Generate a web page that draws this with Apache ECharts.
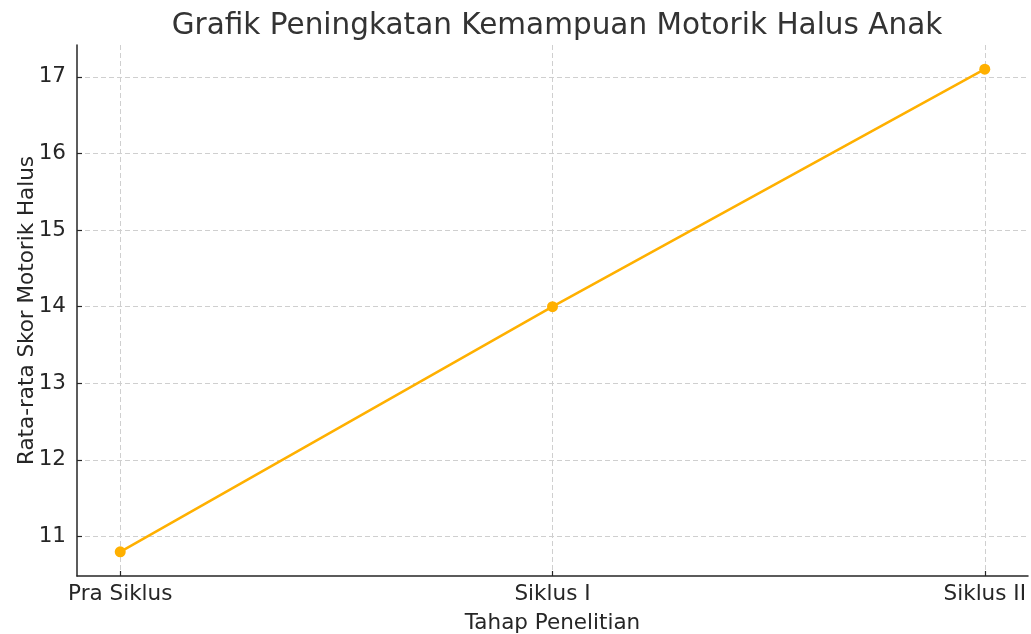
<!DOCTYPE html>
<html>
<head>
<meta charset="utf-8">
<script src="https://cdn.jsdelivr.net/npm/echarts@6/dist/echarts.min.js"></script>
<style>
  html, body { margin: 0; padding: 0; background: #fff; }
  #chart { width: 1031px; height: 634px; }
</style>
</head>
<body>
<div id="chart"></div>
<script>
// data
const categories = ["Pra Siklus", "Siklus I", "Siklus II"];
const scores = [10.8, 14.0, 17.1];
const yTicks = [11, 12, 13, 14, 15, 16, 17];
const xTicks = [0, 1, 2];

const chart = echarts.init(document.getElementById("chart"));
const font = "DejaVu Sans";
const ink = "#262626";

const gridLine = {
  show: true,
  lineStyle: { color: "#cfcfcf", width: 1, type: [5, 3] },
};

const option = {
  backgroundColor: "#fff",
  animation: false,
  textStyle: { fontFamily: font },
  title: {
    text: "Grafik Peningkatan Kemampuan Motorik Halus Anak",
    left: 552,
    textAlign: "center",
    top: 6,
    textStyle: { fontFamily: font, fontSize: 29.5, fontWeight: "normal", color: "#333" },
  },
  grid: { left: 77, right: 3, top: 45, bottom: 58, containLabel: false, outerBoundsMode: "none" },
  xAxis: {
    type: "value",
    min: -0.1,
    max: 2.1,
    name: "Tahap Penelitian",
    nameLocation: "middle",
    nameGap: 36,
    nameTextStyle: { fontFamily: font, fontSize: 21.5, color: ink },
    axisLine: { show: true, onZero: false, lineStyle: { color: ink, width: 1.5 } },
    axisTick: { show: true, inside: true, length: 5, customValues: xTicks, lineStyle: { color: ink, width: 1.2 } },
    axisLabel: {
      customValues: xTicks,
      margin: 7,
      fontFamily: font,
      fontSize: 21.5,
      color: ink,
      formatter: (v) => categories[Math.round(v)],
    },
    splitLine: gridLine,
  },
  yAxis: {
    type: "value",
    min: 10.485,
    max: 17.415,
    name: "Rata-rata Skor Motorik Halus",
    nameLocation: "middle",
    nameGap: 39,
    nameMoveOverlap: false,
    nameTextStyle: { fontFamily: font, fontSize: 21.5, color: ink },
    axisLine: { show: true, onZero: false, lineStyle: { color: ink, width: 1.5 } },
    axisTick: { show: true, inside: true, length: 5, customValues: yTicks, lineStyle: { color: ink, width: 1.2 } },
    axisLabel: {
      customValues: yTicks,
      margin: 11,
      fontFamily: font,
      fontSize: 21.5,
      color: ink,
    },
    splitLine: gridLine,
  },
  series: [
    {
      type: "line",
      data: scores.map((v, i) => [i, v]),
      symbol: "circle",
      symbolSize: 11,
      lineStyle: { color: "#FFB000", width: 2.5 },
      itemStyle: { color: "#FFB000" },
      z: 5,
    },
  ],
};

chart.setOption(option);
</script>
</body>
</html>
